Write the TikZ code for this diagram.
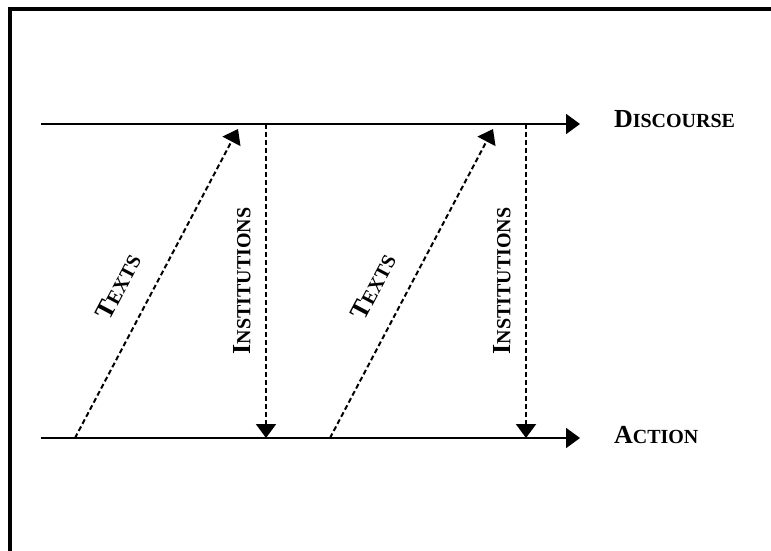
\documentclass[tikz,border=0pt]{standalone}
\usepackage{fontspec}
\setmainfont{Liberation Serif}
\usetikzlibrary{arrows.meta}
% capital plus smaller capitals, as the font has no small caps
\newcommand\capsword[2]{{\fontsize{13}{14}\selectfont #1}{\fontsize{10}{12}\selectfont #2}}
\begin{document}
\begin{tikzpicture}[x=0.5pt,y=-0.5pt,>={Triangle[length=7pt,width=10pt]},
		lbl/.style={font=\bfseries},
		level/.style={->,line width=1pt},
		flow/.style={->,line width=1pt,dash pattern=on 2.5pt off 1.5pt}]
		\useasboundingbox (0,0) rectangle (771,551);
		\clip (0,0) rectangle (771,551);
		\draw[line width=2pt] (9.5,9.5) rectangle (800,580);
		% the two levels
		\draw[level] (41,124) coordinate (D0) -- (580,124) coordinate (D1);
		\draw[level] (41,438) coordinate (A0) -- (580,438) coordinate (A1);
		\node[lbl,anchor=base west] (disc) at (607,127) {\capsword{D}{ISCOURSE}};
		\node[lbl,anchor=base west] (act) at (607,443) {\capsword{A}{CTION}};
		% first cycle
		\coordinate (tA1) at (75,438);
		\coordinate (tD1) at (238,129);
		\coordinate (iD1) at (266,124);
		\coordinate (iA1) at (266,438);
		\draw[flow] (tA1) -- node[lbl,sloped,pos=0.44,above=8pt] (texts1) {\capsword{T}{EXTS}} (tD1);
		\draw[flow] (iD1) -- (iA1);
		\node[lbl,rotate=90] (inst1) at (242,281) {\capsword{I}{NSTITUTIONS}};
		% second cycle
		\coordinate (tA2) at (330,438);
		\coordinate (tD2) at (493,129);
		\coordinate (iD2) at (526,124);
		\coordinate (iA2) at (526,438);
		\draw[flow] (tA2) -- node[lbl,sloped,pos=0.44,above=8pt] (texts2) {\capsword{T}{EXTS}} (tD2);
		\draw[flow] (iD2) -- (iA2);
		\node[lbl,rotate=90] (inst2) at (502,281) {\capsword{I}{NSTITUTIONS}};
\end{tikzpicture}
\end{document}
